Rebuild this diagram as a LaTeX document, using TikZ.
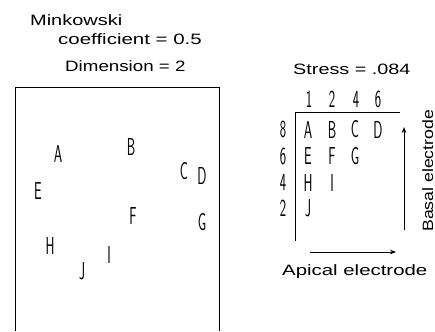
\documentclass[tikz,border=0pt]{standalone}
\usepackage{fontspec}
\newfontfamily\hv{Liberation Sans}
\usetikzlibrary{arrows.meta}
\tikzset{
  title/.style={inner sep=0pt, anchor=base west, font=\hv\fontsize{15}{15}\selectfont},
  plot/.style={inner sep=0pt, anchor=center, font=\sffamily\fontsize{24.5}{24.5}\selectfont},
  frame/.style={line width=0.8pt},
  axis/.style={line width=0.8pt},
  elarrow/.style={line width=0.8pt, -{Stealth[length=6pt,width=4.5pt]}}
}
\newcommand{\pl}[1]{\scalebox{0.55}[1]{#1}}
\begin{document}
\begin{tikzpicture}[x=1pt,y=-1pt]
\useasboundingbox (0,0) rectangle (435,331);
% titles
\node[title] (tmink) at (30,25.7) {\scalebox{1.33}[1]{Minkowski}};
\node[title] (tcoef) at (58,45) {\scalebox{1.365}[1]{coefficient = 0.5}};
\node[title] (tdim) at (65,71.7) {\scalebox{1.25}[1]{Dimension = 2}};
% frame (open at bottom)
\coordinate (fbl) at (15,331);
\coordinate (ftl) at (15,87);
\coordinate (ftr) at (219,87);
\coordinate (fbr) at (219,331);
\draw[frame] (fbl) -- (ftl) -- (ftr) -- (fbr);
% configuration letters
\node[plot] (pA) at (58,154) {\pl{A}};
\node[plot] (pB) at (131,147) {\pl{B}};
\node[plot] (pC) at (184,171) {\pl{C}};
\node[plot] (pD) at (202,176) {\pl{D}};
\node[plot] (pE) at (38,191) {\pl{E}};
\node[plot] (pF) at (133,216) {\pl{F}};
\node[plot] (pG) at (202,222.5) {\pl{G}};
\node[plot] (pH) at (50,246) {\pl{H}};
\node[plot] (pI) at (109,255) {\pl{I}};
\node[plot] (pJ) at (82,271) {\pl{J}};
% right side
\node[title] (tstress) at (293,75) {\scalebox{1.32}[1]{Stress = .084}};
\node[plot] (c1) at (309,99) {\pl{1}};
\node[plot] (c2) at (332,99) {\pl{2}};
\node[plot] (c4) at (356,99) {\pl{4}};
\node[plot] (c6) at (378,99) {\pl{6}};
\node[plot] (r8) at (283,129.5) {\pl{8}};
\node[plot] (r6) at (283,156) {\pl{6}};
\node[plot] (r4) at (283,182.5) {\pl{4}};
\node[plot] (r2) at (283,208.5) {\pl{2}};
\coordinate (gtr) at (400,112.5);
\coordinate (gtl) at (295,112.5);
\coordinate (gbl) at (295,241);
\draw[axis] (gtr) -- (gtl) -- (gbl);
\node[plot] (gA) at (308,129.5) {\pl{A}};
\node[plot] (gB) at (332,129.5) {\pl{B}};
\node[plot] (gC) at (355,129.5) {\pl{C}};
\node[plot] (gD) at (378,129.5) {\pl{D}};
\node[plot] (gE) at (308,156) {\pl{E}};
\node[plot] (gF) at (332,156) {\pl{F}};
\node[plot] (gG) at (355,156) {\pl{G}};
\node[plot] (gH) at (308,182.5) {\pl{H}};
\node[plot] (gI) at (332,182.5) {\pl{I}};
\node[plot] (gJ) at (308,208.5) {\pl{J}};
% electrode arrows
\coordinate (ua) at (404,230);
\coordinate (ub) at (404,127);
\draw[elarrow] (ua) -- (ub);
\coordinate (ra) at (310,252);
\coordinate (rb) at (396,252);
\draw[elarrow] (ra) -- (rb);
\node[title] (tapical) at (282,275) {\scalebox{1.36}[1]{Apical electrode}};
\node[title, rotate=90] (tbasal) at (433,232) {\scalebox{1.18}[1]{Basal electrode}};
\end{tikzpicture}
\end{document}
